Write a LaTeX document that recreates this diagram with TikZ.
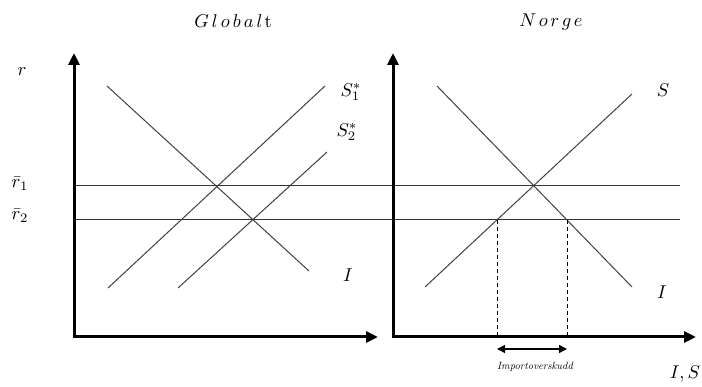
\documentclass[tikz,border=0pt]{standalone}
\usepackage{fontspec}
\usetikzlibrary{arrows.meta}
\begin{document}
\begin{tikzpicture}[x=1pt,y=-1pt,
  axis/.style={line width=3pt,-{Triangle[length=12pt,width=11pt]}},
  curve/.style={line width=1pt,draw=black!75},
  level/.style={line width=1pt,draw=black!80},
  guide/.style={line width=0.8pt,dashed,dash pattern=on 4pt off 3pt},
  lbl/.style={scale=1.85,inner sep=0pt},
  small/.style={scale=1.05,inner sep=0pt}]
\useasboundingbox (0,0) rectangle (702,387);
% coordinates
\coordinate (LO) at (74,337);
\coordinate (LY) at (74,53);
\coordinate (LX) at (378,337);
\coordinate (RO) at (393,337);
\coordinate (RY) at (393,53);
\coordinate (RX) at (696,337);
\coordinate (r1a) at (74,186);
\coordinate (r1b) at (680,186);
\coordinate (r2a) at (74,220);
\coordinate (r2b) at (680,220);
\coordinate (LIa) at (107,86);
\coordinate (LIb) at (309,271);
\coordinate (S1a) at (108,288);
\coordinate (S1b) at (325,86);
\coordinate (S2a) at (178,288);
\coordinate (S2b) at (327,152);
\coordinate (RIa) at (437,86);
\coordinate (RIb) at (632,287);
\coordinate (RSa) at (425,287);
\coordinate (RSb) at (632,94);
\coordinate (d1t) at (497,220);
\coordinate (d1b) at (497,337);
\coordinate (d2t) at (567,220);
\coordinate (d2b) at (567,337);
\coordinate (ia) at (497,349);
\coordinate (ib) at (567,349);
% level lines
\draw[level] (r1a) -- (r1b);
\draw[level] (r2a) -- (r2b);
% curves
\draw[curve] (LIa) -- (LIb);
\draw[curve] (S1a) -- (S1b);
\draw[curve] (S2a) -- (S2b);
\draw[curve] (RIa) -- (RIb);
\draw[curve] (RSa) -- (RSb);
% dashed guides
\draw[guide] (d1t) -- (d1b);
\draw[guide] (d2t) -- (d2b);
% axes
\draw[axis] (LO) -- (LY);
\draw[axis] (LO) -- (LX);
\draw[axis] (RO) -- (RY);
\draw[axis] (RO) -- (RX);
\fill (LO) ++(-1.5,-1.5) rectangle ++(3,3);
\fill (RO) ++(-1.5,-1.5) rectangle ++(3,3);
% double arrow
\draw[line width=1.2pt,{Triangle[length=8pt,width=8pt]}-{Triangle[length=8pt,width=8pt]}] (ia) -- (ib);
% labels
\node[lbl] (tG) at (233,21) {$G\mkern3mu l\mkern3mu o\mkern3mu b\mkern3mu a\mkern3mu l$\kern1pt t};
\node[lbl] (tN) at (551,22) {$N\mkern2.5mu o\mkern2.5mu r\mkern2.5mu g\mkern2.5mu e$};
\node[lbl] (lr) at (22,72) {$r$};
\node[lbl] (lr1) at (20,184) {$\bar r_1$};
\node[lbl] (lr2) at (20,216) {$\bar r_2$};
\node[lbl] (lS1) at (351,92) {$S_1^*$};
\node[lbl] (lS2) at (347,132) {$S_2^*$};
\node[lbl] (lIL) at (348,275) {$I$};
\node[lbl] (lS) at (663,90) {$S$};
\node[lbl] (lIR) at (662,292) {$I$};
\node[lbl] (lIS) at (685,374) {$I,S$};
\node[small] (imp) at (535,367) {\itshape\addfontfeatures{LetterSpace=22}Importoverskudd};
\end{tikzpicture}
\end{document}
